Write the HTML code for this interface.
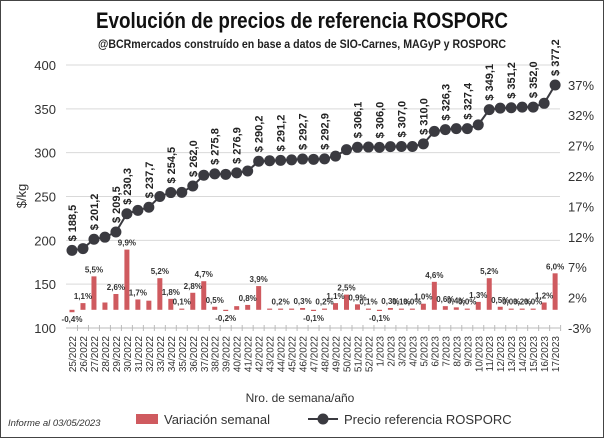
<!DOCTYPE html>
<html><head><meta charset="utf-8">
<style>
html,body{margin:0;padding:0;background:#fff;}
svg{display:block;font-family:"Liberation Sans",sans-serif;}
</style></head>
<body>
<svg id="s" width="604" height="438" viewBox="0 0 604 438" xmlns="http://www.w3.org/2000/svg">
<rect x="0.5" y="0.5" width="603" height="437" fill="#fff" stroke="#444"/>
<text x="302" y="28" text-anchor="middle" font-family="Liberation Sans Narrow, Liberation Sans, sans-serif" font-weight="bold" font-size="22" textLength="412" lengthAdjust="spacingAndGlyphs" fill="#111">Evolución de precios de referencia ROSPORC</text>
<text x="302" y="48" text-anchor="middle" font-weight="bold" font-size="11.5" textLength="408" lengthAdjust="spacingAndGlyphs" fill="#222">@BCRmercados construído en base a datos de SIO-Carnes, MAGyP y ROSPORC</text>
<g id="grid"></g>
<g id="bars"></g>
<g id="line"></g>
<g id="labels"></g>
<text transform="translate(26,196) rotate(-90)" text-anchor="middle" font-size="13" fill="#333">$/kg</text>
<text x="300" y="402" text-anchor="middle" font-size="12" fill="#333">Nro. de semana/año</text>
<rect x="136" y="414" width="22" height="10" fill="#cf5a5f"/>
<text x="164" y="424" font-size="13" fill="#333">Variación semanal</text>
<line x1="308" y1="419" x2="338" y2="419" stroke="#3a3a40" stroke-width="2"/>
<circle cx="323" cy="419" r="5.5" fill="#3a3a40"/>
<text x="344" y="424" font-size="13" fill="#333">Precio referencia ROSPORC</text>
<text x="8" y="426" font-size="9.5" font-style="italic" fill="#333">Informe al 03/05/2023</text>
</svg>
<script>
const NS="http://www.w3.org/2000/svg";
function el(p,t,a,txt){const e=document.createElementNS(NS,t);for(const k in a)e.setAttribute(k,a[k]);if(txt!==undefined)e.textContent=txt;document.getElementById(p).appendChild(e);return e;}
const x0=72,dx=10.98;
const yP=v=>328-(v-100)*0.8767;
const yB=v=>309.8-v*6.08;
// grid
for(let i=0;i<7;i++){const v=100+i*50,y=yP(v);
 if(i>0)el("grid","line",{x1:66,x2:560,y1:y,y2:y,stroke:"#d9d9d9","stroke-width":1});
 el("grid","text",{x:56,y:y+5,"text-anchor":"end","font-size":13,fill:"#333"},String(v));}
const rl=["-3%","2%","7%","12%","17%","22%","27%","32%","37%"];
rl.forEach((t,i)=>{el("grid","text",{x:568,y:328-i*30.4+5,"font-size":13,fill:"#333"},t);});
el("grid","line",{x1:66,x2:560,y1:328,y2:328,stroke:"#bbb"});
const weeks=[];for(let w=25;w<=52;w++)weeks.push(w+"/2022");for(let w=1;w<=17;w++)weeks.push(w+"/2023");
weeks.forEach((w,i)=>{const x=x0+i*dx;
 el("grid","line",{x1:x+dx/2,x2:x+dx/2,y1:325,y2:331,stroke:"#bbb"});
 el("grid","text",{transform:`translate(${x+4},${336}) rotate(-90)`,"text-anchor":"end","font-size":10,fill:"#333"},w);});
const pct=[-0.4,1.1,5.5,1.2,2.6,9.9,1.7,1.5,5.2,1.8,0.1,2.8,4.7,0.5,-0.2,0.6,0.8,3.9,0.2,0.2,0.2,0.3,-0.1,0.2,1.1,2.5,0.9,0.1,-0.1,0.3,0.1,0.0,1.0,4.6,0.6,0.4,0.0,1.3,5.2,0.5,0.0,0.2,0.0,1.2,6.0];
const price=[188.5,190.6,201.2,203.6,209.5,230.3,234.2,237.7,250.0,254.5,254.7,262.0,274.3,275.8,275.3,276.9,279.1,290.2,290.8,291.2,291.8,292.7,292.4,292.9,296.0,303.4,306.1,306.4,306.0,306.9,307.0,307.0,310.0,324.3,326.3,327.4,327.4,331.7,349.1,350.8,351.2,351.9,352.0,356.3,377.2];
const noLab=[3,7,15,18,20];
pct.forEach((p,i)=>{const x=x0+i*dx;const y=yB(p);const y0=yB(0);
 const h=Math.max(Math.abs(y-y0),1.2);
 el("bars","rect",{x:x-2.5,y:p>=0?y0-h:y0,width:5,height:h,fill:"#cf5a5f"});
 if(noLab.includes(i))return;
 const s=p.toFixed(1).replace(".",",")+"%";
 const ty=p>=0?y0-h-4:y0+h+10;
 el("labels","text",{x:x,y:ty,"text-anchor":"middle","font-size":8,"font-weight":"bold",fill:"#333"},s);});
let d="";price.forEach((v,i)=>{d+=(i?"L":"M")+(x0+i*dx)+","+yP(v);});
el("line","path",{d:d,fill:"none",stroke:"#3a3a40","stroke-width":2});
const labIdx=[0,2,4,5,7,9,11,13,15,17,19,21,23,26,28,30,32,34,36,38,40,42,44];
price.forEach((v,i)=>{const x=x0+i*dx,y=yP(v);el("line","circle",{cx:x,cy:y,r:5.5,fill:"#3a3a40"});
 if(labIdx.includes(i)){el("labels","text",{transform:`translate(${x+4},${y-9}) rotate(-90)`,"font-size":11,"font-weight":"bold",fill:"#222"},"$ "+v.toFixed(1).replace(".",","));}});
</script>
</body></html>
